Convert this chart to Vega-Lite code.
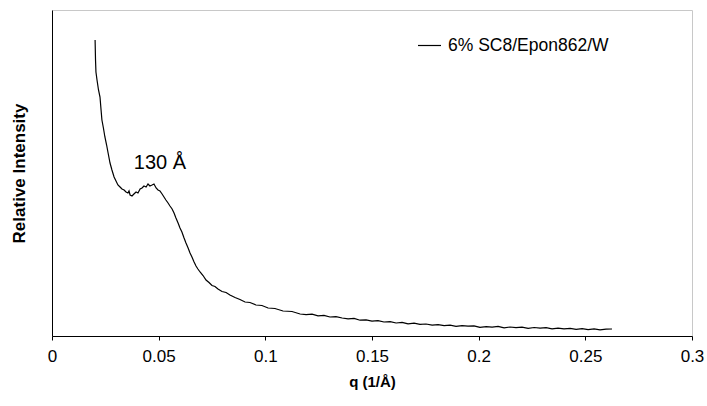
{
  "$schema": "https://vega.github.io/schema/vega-lite/v6.json",
  "width": 640,
  "height": 326,
  "autosize": {"type": "none"},
  "padding": {"left": 52, "top": 10, "right": 15, "bottom": 70},
  "background": "white",
  "config": {
    "font": "Liberation Sans",
    "view": {"stroke": "#c8c8c8", "strokeWidth": 1},
    "axis": {"grid": false, "domainColor": "black", "tickColor": "black", "labelColor": "black", "titleColor": "black"}
  },
  "datasets": {
    "curve": [
      {"q": 0.0202, "I": 296}, {"q": 0.0204, "I": 276}, {"q": 0.0206, "I": 264}, {"q": 0.0211, "I": 256},
      {"q": 0.0218, "I": 246}, {"q": 0.0225, "I": 239}, {"q": 0.0230, "I": 226}, {"q": 0.0234, "I": 216},
      {"q": 0.0241, "I": 208}, {"q": 0.0248, "I": 199}, {"q": 0.0256, "I": 191}, {"q": 0.0263, "I": 183},
      {"q": 0.0272, "I": 173}, {"q": 0.0281, "I": 166}, {"q": 0.0291, "I": 159}, {"q": 0.0300, "I": 155},
      {"q": 0.0309, "I": 151}, {"q": 0.0319, "I": 149}, {"q": 0.0328, "I": 147}, {"q": 0.0338, "I": 146},
      {"q": 0.0347, "I": 144}, {"q": 0.0356, "I": 143}, {"q": 0.0361, "I": 145}, {"q": 0.0366, "I": 141},
      {"q": 0.0375, "I": 140}, {"q": 0.0384, "I": 142}, {"q": 0.0394, "I": 144}, {"q": 0.0403, "I": 143},
      {"q": 0.0413, "I": 147}, {"q": 0.0422, "I": 148}, {"q": 0.0431, "I": 150}, {"q": 0.0441, "I": 149},
      {"q": 0.0450, "I": 152}, {"q": 0.0459, "I": 150}, {"q": 0.0469, "I": 151}, {"q": 0.0478, "I": 152},
      {"q": 0.0488, "I": 148}, {"q": 0.0497, "I": 146}, {"q": 0.0506, "I": 145}, {"q": 0.0516, "I": 142},
      {"q": 0.0525, "I": 139}, {"q": 0.0534, "I": 136}, {"q": 0.0544, "I": 133}, {"q": 0.0553, "I": 130},
      {"q": 0.0563, "I": 127}, {"q": 0.0572, "I": 123}, {"q": 0.0581, "I": 118}, {"q": 0.0591, "I": 113},
      {"q": 0.0600, "I": 108}, {"q": 0.0609, "I": 104}, {"q": 0.0619, "I": 98}, {"q": 0.0628, "I": 93},
      {"q": 0.0638, "I": 88}, {"q": 0.0647, "I": 83}, {"q": 0.0656, "I": 79}, {"q": 0.0666, "I": 74},
      {"q": 0.0675, "I": 70}, {"q": 0.0684, "I": 67}, {"q": 0.0694, "I": 64}, {"q": 0.0708, "I": 60.5},
      {"q": 0.0722, "I": 56}, {"q": 0.0736, "I": 53.5}, {"q": 0.0750, "I": 50.5}, {"q": 0.0764, "I": 49.5},
      {"q": 0.0778, "I": 47}, {"q": 0.0797, "I": 44.5}, {"q": 0.0816, "I": 43.5}, {"q": 0.0834, "I": 41},
      {"q": 0.0858, "I": 38.5}, {"q": 0.0881, "I": 36.5}, {"q": 0.0905, "I": 34}, {"q": 0.0928, "I": 33.5},
      {"q": 0.0956, "I": 31}, {"q": 0.0984, "I": 30.5}, {"q": 0.1013, "I": 28}, {"q": 0.1045, "I": 27.5},
      {"q": 0.1083, "I": 25}, {"q": 0.1125, "I": 24.5}, {"q": 0.1163, "I": 22}, {"q": 0.1191, "I": 21.3},
      {"q": 0.1219, "I": 21.8}, {"q": 0.1247, "I": 20.2}, {"q": 0.1275, "I": 20.6}, {"q": 0.1303, "I": 19},
      {"q": 0.1331, "I": 19.4}, {"q": 0.1360, "I": 18}, {"q": 0.1388, "I": 17.2}, {"q": 0.1416, "I": 17.6},
      {"q": 0.1444, "I": 15.8}, {"q": 0.1472, "I": 16.2}, {"q": 0.1500, "I": 14.9}, {"q": 0.1528, "I": 15.3},
      {"q": 0.1556, "I": 14}, {"q": 0.1585, "I": 14.4}, {"q": 0.1613, "I": 13}, {"q": 0.1641, "I": 13.6},
      {"q": 0.1669, "I": 12.2}, {"q": 0.1697, "I": 12.8}, {"q": 0.1725, "I": 11.6}, {"q": 0.1753, "I": 12},
      {"q": 0.1782, "I": 10.8}, {"q": 0.1810, "I": 11.4}, {"q": 0.1838, "I": 10.3}, {"q": 0.1866, "I": 10.8},
      {"q": 0.1894, "I": 9.6}, {"q": 0.1922, "I": 10.4}, {"q": 0.1950, "I": 9.8}, {"q": 0.1978, "I": 10.2},
      {"q": 0.2006, "I": 8.6}, {"q": 0.2035, "I": 9.4}, {"q": 0.2063, "I": 8.8}, {"q": 0.2091, "I": 9.6},
      {"q": 0.2119, "I": 8.2}, {"q": 0.2147, "I": 9}, {"q": 0.2175, "I": 8.4}, {"q": 0.2203, "I": 8.9},
      {"q": 0.2232, "I": 7.6}, {"q": 0.2260, "I": 8.5}, {"q": 0.2288, "I": 7.8}, {"q": 0.2316, "I": 8.3},
      {"q": 0.2344, "I": 7.2}, {"q": 0.2372, "I": 7.9}, {"q": 0.2400, "I": 7.1}, {"q": 0.2429, "I": 7.7},
      {"q": 0.2457, "I": 6.6}, {"q": 0.2485, "I": 7.4}, {"q": 0.2513, "I": 6.4}, {"q": 0.2541, "I": 7.2},
      {"q": 0.2569, "I": 6.2}, {"q": 0.2597, "I": 6.9}, {"q": 0.2625, "I": 7}
    ],
    "note": [{"q": 0.0506, "I": 173, "label": "130 Å"}]
  },
  "layer": [
    {
      "data": {"name": "curve"},
      "mark": {"type": "line", "strokeWidth": 1.2, "interpolate": "linear"},
      "encoding": {
        "x": {
          "field": "q", "type": "quantitative",
          "scale": {"domain": [0, 0.3], "nice": false, "zero": false},
          "axis": {
            "values": [0, 0.05, 0.1, 0.15, 0.2, 0.25, 0.3],
            "title": "q (1/Å)", "titleFontSize": 15, "titleFontWeight": "bold", "titlePadding": 10,
            "labelFontSize": 17, "labelFontWeight": "normal", "labelPadding": 8, "tickSize": 4,
            "labelFlush": false, "labelExpr": "datum.value == 0 ? '0' : format(datum.value, '.2~f')"
          }
        },
        "y": {
          "field": "I", "type": "quantitative",
          "scale": {"domain": [0, 326], "nice": false},
          "axis": {
            "title": "Relative Intensity", "titleFontSize": 17, "titleFontWeight": "bold",
            "labels": false, "ticks": false, "titlePadding": 24
          }
        },
        "color": {
          "datum": "6% SC8/Epon862/W", "type": "nominal",
          "scale": {"range": ["black"]},
          "legend": {
            "title": null, "orient": "none", "legendX": 365, "legendY": 23,
            "symbolType": "stroke", "symbolSize": 529, "symbolStrokeWidth": 1.2,
            "labelFontSize": 17.5, "labelOffset": 6, "labelLimit": 400, "padding": 0, "labelColor": "black"
          }
        }
      }
    },
    {
      "data": {"name": "note"},
      "mark": {"type": "text", "fontSize": 20, "color": "black", "align": "center", "baseline": "middle"},
      "encoding": {
        "x": {"field": "q", "type": "quantitative"},
        "y": {"field": "I", "type": "quantitative"},
        "text": {"field": "label"}
      }
    }
  ]
}
